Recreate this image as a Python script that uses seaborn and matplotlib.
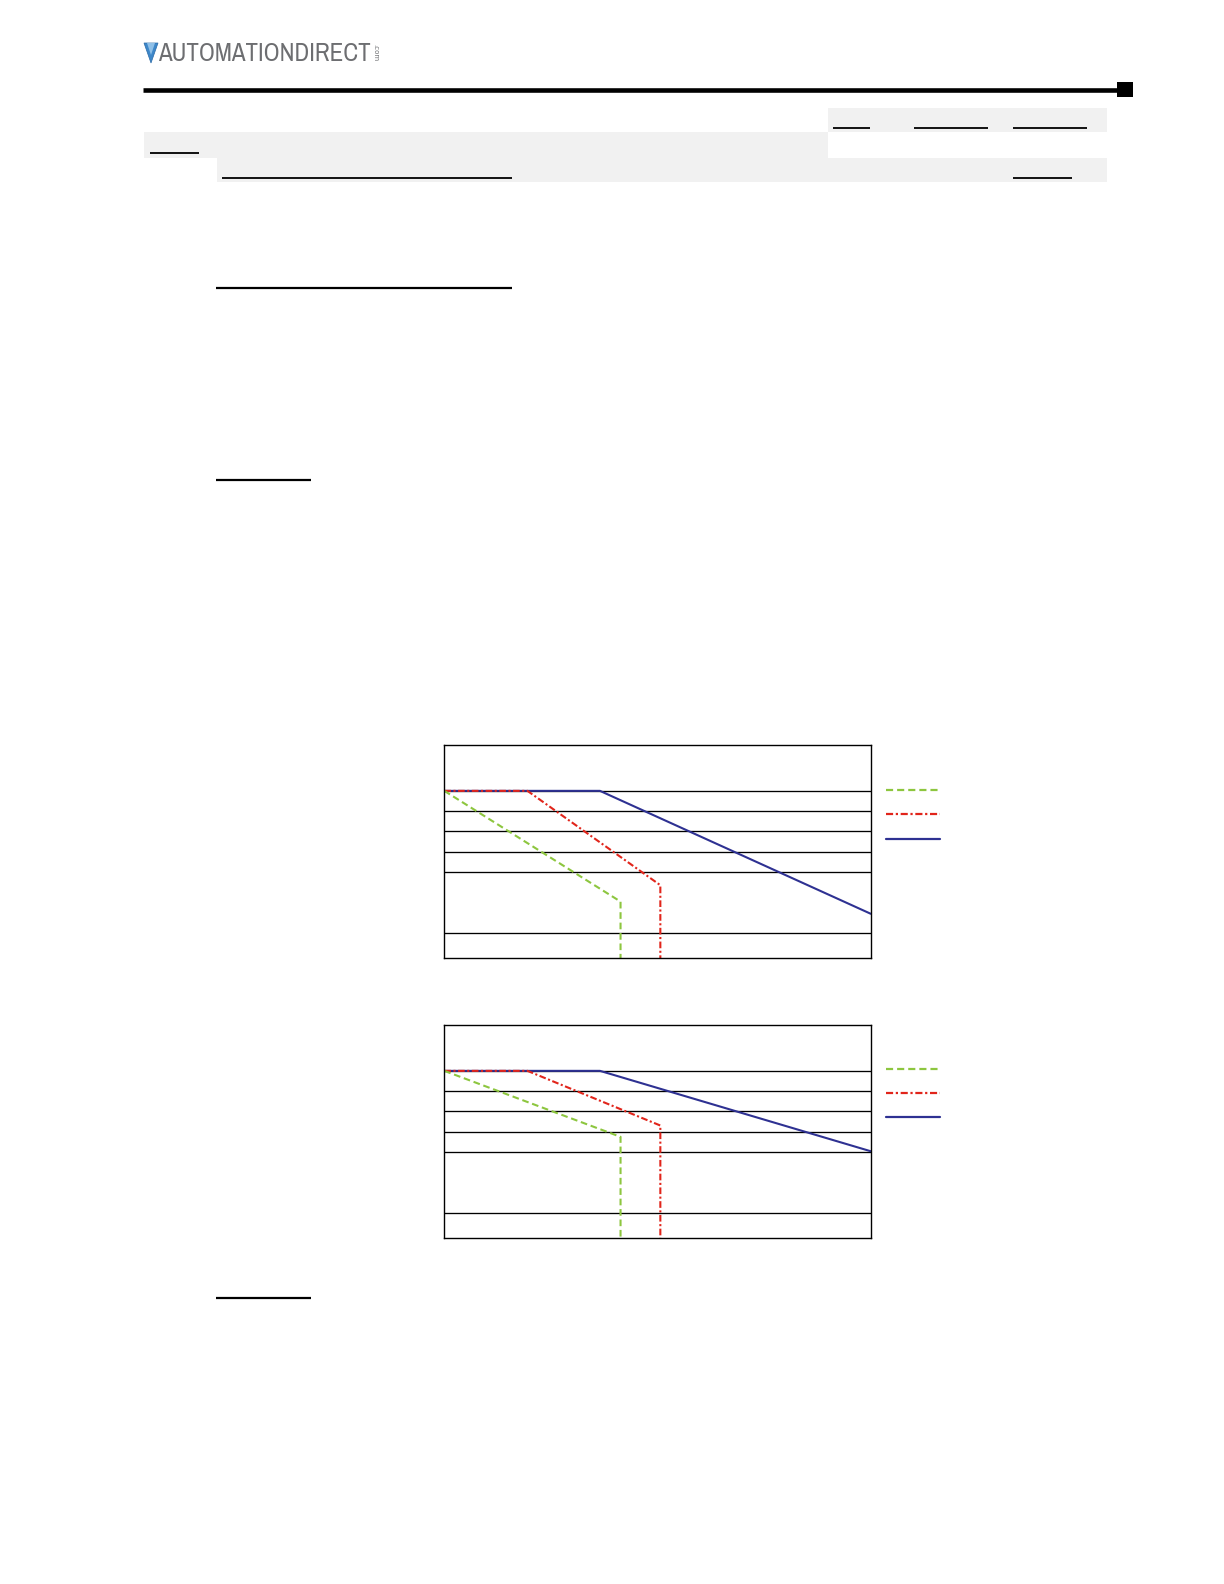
#!/usr/bin/env python
# -*- coding: utf-8 -*-

"""
Derating curves page: two line charts with three curves each,
plus the page header decoration.
"""

import matplotlib.pyplot as plt
import seaborn as sns
import pandas as pd
import numpy as np
from matplotlib import font_manager as fm
from matplotlib.patches import Rectangle, Polygon

# ---- data -------------------------------------------------------------
series_names = ['Series 1', 'Series 2', 'Series 3']

# chart 1
top_green_x = [0, 24.8, 24.8]
top_green_y = [100, 45.3, 0]
top_red_x = [0, 11.7, 30.4, 30.4]
top_red_y = [100, 100, 53.4, 0]
top_blue_x = [0, 21.9, 60]
top_blue_y = [100, 100, 39.3]

# chart 2
bot_green_x = [0, 24.8, 24.8]
bot_green_y = [100, 67.4, 0]
bot_red_x = [0, 11.7, 30.4, 30.4]
bot_red_y = [100, 100, 73.0, 0]
bot_blue_x = [0, 21.9, 60]
bot_blue_y = [100, 100, 60.3]

grid_values = [30, 60, 70, 80, 90, 100]

colors = {'Series 1': '#8dc63f', 'Series 2': '#e1251b', 'Series 3': '#2e3192'}
dash_styles = {'Series 1': (3.2, 1.8), 'Series 2': (3.2, 1.2, 1.0, 1.2), 'Series 3': ''}

W, H = 1224, 1584


def to_frame(xs, ys):
    rows = []
    for name, x, y in zip(series_names, xs, ys):
        for i, (a, b) in enumerate(zip(x, y)):
            rows.append({'x': a, 'y': b, 'series': name, 'order': i})
    return pd.DataFrame(rows)


def draw_chart(fig, rect_px, df, legend_y_px):
    left, top, width, height = rect_px
    ax = fig.add_axes([left / W, 1 - (top + height) / H, width / W, height / H])
    sns.lineplot(data=df, x='x', y='y', hue='series', style='series',
                 hue_order=series_names[::-1], style_order=series_names[::-1],
                 palette=colors, dashes=dash_styles, sort=False, estimator=None,
                 linewidth=1.5, ax=ax)
    ax.set_xlim(0, 60)
    ax.set_ylim(17.5, 122.5)
    ax.set_yticks(grid_values)
    ax.set_xticks([])
    ax.grid(axis='y', color='black', linewidth=0.95)
    ax.grid(axis='x', visible=False)
    ax.tick_params(length=0, labelleft=False, labelbottom=False)
    ax.set_xlabel('')
    ax.set_ylabel('')
    for sp in ax.spines.values():
        sp.set_visible(True)
        sp.set_color('black')
        sp.set_linewidth(1.0)
    handles, labels = ax.get_legend_handles_labels()
    lookup = dict(zip(labels, handles))
    hs = [lookup[n] for n in series_names]
    for h in hs:
        h.set_linewidth(1.6)
    ax.legend(hs, [''] * 3, loc='center left',
              bbox_to_anchor=(886 / W, 1 - legend_y_px / H),
              bbox_transform=fig.transFigure, frameon=False,
              borderpad=0, borderaxespad=0, handletextpad=0,
              handlelength=54 / 13.9, labelspacing=0.73, fontsize=10)
    return ax


def narrow_family():
    # pick a condensed face if one is installed, else plain DejaVu Sans
    for f in fm.fontManager.ttflist:
        if 'Narrow' in f.name or 'Condensed' in f.name:
            return f.name, 'normal'
    for f in fm.fontManager.ttflist:
        if f.name == 'DejaVu Sans' and f.stretch == 'condensed':
            return 'DejaVu Sans', 'condensed'
    return 'DejaVu Sans', 'normal'


sns.set_style('white')
plt.rcParams['font.family'] = ['DejaVu Sans']

fig = plt.figure(figsize=(W / 100, H / 100), dpi=100)

# ---- page decoration --------------------------------------------------
page = fig.add_axes([0, 0, 1, 1])
page.set_xlim(0, W)
page.set_ylim(H, 0)
page.axis('off')

gray_boxes = [(828.3, 108.3, 278.4, 24), (144.4, 132.3, 683.9, 26), (216.6, 158.3, 890.1, 24)]
for x0, y0, w, h in gray_boxes:
    page.add_patch(Rectangle((x0, y0), w, h, color='#f1f1f1', lw=0))

underlines = [(833.3, 870.0, 128.3), (914.3, 987.7, 128.3), (1013.3, 1086.7, 128.3),
              (149.5, 198.7, 152.5), (221.7, 512.0, 177.7), (1013.3, 1071.7, 178.3)]
for x0, x1, y in underlines:
    page.plot([x0, x1], [y, y], color='black', lw=1.3, solid_capstyle='butt')

section_lines = [(216, 512, 287.5), (216, 311, 479.5), (216, 311, 1297.5)]
for x0, x1, y in section_lines:
    page.plot([x0, x1], [y, y], color='black', lw=1.6, solid_capstyle='butt')

page.plot([143, 1117], [89.5, 89.5], color='black', lw=3.3, solid_capstyle='butt')
page.add_patch(Rectangle((1116.7, 81.7), 16, 15.6, color='black', lw=0))

# logo
page.add_patch(Polygon([[144, 43], [158, 43], [151, 63]], closed=True,
                       facecolor='#3d87c9', edgecolor='#2a6aa8', lw=0.5))
page.add_patch(Polygon([[147, 43], [155, 43], [151, 55]], closed=True,
                       facecolor='#8fc0e8', lw=0))
fam, stretch = narrow_family()
logo = page.text(158, 53.5, 'AUTOMATIONDIRECT', ha='left', va='center',
                 fontsize=15, color='#6d6e71', family=[fam, 'DejaVu Sans'],
                 fontstretch=stretch)
fig.canvas.draw()
bb = logo.get_window_extent()
logo.set_fontsize(15 * 213 / bb.width)
page.text(375, 53, '.com', rotation=270, ha='center', va='center',
          fontsize=5, color='#6d6e71')

# ---- charts ------------------------------------------------------------
df_top = to_frame([top_green_x, top_red_x, top_blue_x],
                  [top_green_y, top_red_y, top_blue_y])
df_bot = to_frame([bot_green_x, bot_red_x, bot_blue_x],
                  [bot_green_y, bot_red_y, bot_blue_y])

draw_chart(fig, (444.3, 745.3, 426.4, 212.6), df_top, 815.3)
draw_chart(fig, (444.3, 1025.3, 426.4, 212.6), df_bot, 1094.0)

fig.savefig('out.png', dpi=100)
